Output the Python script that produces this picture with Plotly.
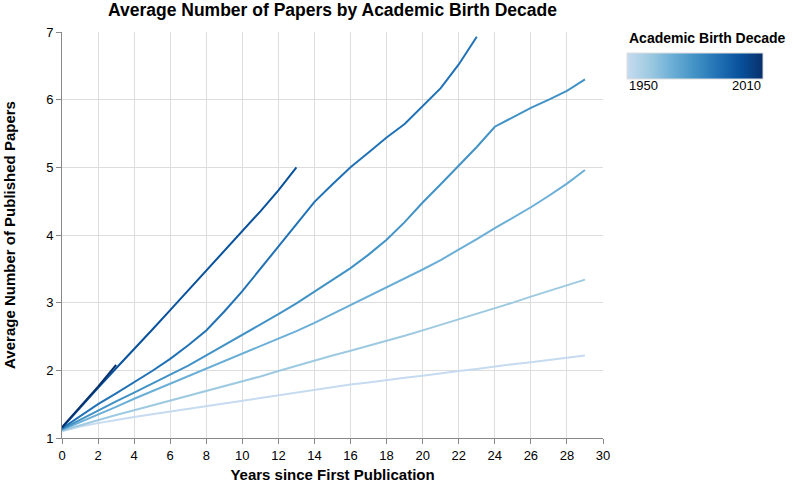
import plotly.graph_objects as go

# ---- data ----
decades = [1950, 1960, 1970, 1980, 1990, 2000, 2010]
papers_1950 = [1.10, 1.17, 1.22, 1.27, 1.31, 1.35, 1.39, 1.43, 1.47, 1.51, 1.56, 1.60, 1.64, 1.68,
               1.71, 1.75, 1.79, 1.82, 1.86, 1.89, 1.92, 1.96, 1.99, 2.02, 2.06, 2.09, 2.12, 2.15, 2.18, 2.22]
papers_1960 = [1.11, 1.19, 1.26, 1.34, 1.41, 1.48, 1.55, 1.62, 1.69, 1.76, 1.83, 1.91, 1.99, 2.07,
               2.15, 2.22, 2.29, 2.36, 2.43, 2.51, 2.59, 2.67, 2.75, 2.83, 2.92, 3.00, 3.09, 3.17, 3.25, 3.34]
papers_1970 = [1.12, 1.23, 1.35, 1.46, 1.58, 1.69, 1.80, 1.91, 2.02, 2.13, 2.24, 2.35, 2.47, 2.58,
               2.70, 2.83, 2.96, 3.09, 3.22, 3.35, 3.49, 3.63, 3.78, 3.94, 4.10, 4.25, 4.41, 4.58, 4.76, 4.96]
papers_1980 = [1.13, 1.27, 1.41, 1.54, 1.67, 1.80, 1.93, 2.07, 2.22, 2.37, 2.52, 2.67, 2.83, 2.99,
               3.16, 3.33, 3.51, 3.71, 3.93, 4.19, 4.48, 4.75, 5.02, 5.30, 5.60, 5.74, 5.88, 6.00, 6.13, 6.30]
papers_1990 = [1.14, 1.32, 1.50, 1.66, 1.82, 1.99, 2.17, 2.37, 2.59, 2.87, 3.17, 3.50, 3.83, 4.17,
               4.49, 4.75, 5.00, 5.22, 5.44, 5.64, 5.90, 6.17, 6.52, 6.93]
papers_2000 = [1.15, 1.45, 1.74, 2.03, 2.31, 2.60, 2.89, 3.18, 3.48, 3.77, 4.06, 4.35, 4.66, 5.00]
papers_2010 = [1.16, 1.46, 1.76, 2.08]
series = [papers_1950, papers_1960, papers_1970, papers_1980, papers_1990, papers_2000, papers_2010]

line_colors = ['#c6dbef', '#9ecae1', '#6baed6', '#4292c6', '#2171b5', '#08519c', '#08306b']

x_ticks = list(range(0, 31, 2))
y_ticks = [1, 2, 3, 4, 5, 6, 7]
legend_labels = ['1950', '2010']

FONT = 'Liberation Sans, Arial, Helvetica, sans-serif'
PLOT_W = 603 - 62
PLOT_H = 438 - 32

fig = go.Figure()
for dec, vals, col in zip(decades, series, line_colors):
    fig.add_trace(go.Scatter(
        x=list(range(len(vals))), y=vals, mode='lines', name=str(dec),
        line=dict(color=col, width=2), showlegend=False,
        hovertemplate='decade %{fullData.name}<br>year %{x}<br>%{y}<extra></extra>'))

# colour legend (gradient)
leg_x = (627 - 62) / PLOT_W
leg_top = (438 - 53) / PLOT_H
scale = [[i / (len(line_colors) - 1), c] for i, c in enumerate(line_colors)]
fig.add_trace(go.Scatter(
    x=[None, None], y=[None, None], mode='markers', showlegend=False, hoverinfo='skip',
    marker=dict(color=[decades[0], decades[-1]], cmin=decades[0], cmax=decades[-1],
                colorscale=scale, showscale=True,
                colorbar=dict(orientation='h', x=leg_x, xanchor='left', y=leg_top, yanchor='top',
                              lenmode='pixels', len=136, thickness=26, xpad=0, ypad=0,
                              outlinewidth=1, outlinecolor='#dddddd',
                              showticklabels=False, ticks=''))))

fig.add_annotation(x=leg_x, y=(438 - 38) / PLOT_H, xref='paper', yref='paper', xanchor='left', yanchor='middle',
                   text='<b>Academic Birth Decade</b>', showarrow=False,
                   font=dict(size=14, color='#000', family=FONT))
fig.add_annotation(x=leg_x, y=(438 - 86) / PLOT_H, xref='paper', yref='paper', xanchor='left', yanchor='middle',
                   text=legend_labels[0], showarrow=False, font=dict(size=13, color='#000', family=FONT))
fig.add_annotation(x=leg_x + 136 / PLOT_W, y=(438 - 86) / PLOT_H, xref='paper', yref='paper',
                   xanchor='right', yanchor='middle',
                   text=legend_labels[1], showarrow=False, font=dict(size=13, color='#000', family=FONT))

fig.update_layout(
    width=794, height=483,
    margin=dict(l=62, r=794 - 603, t=32, b=483 - 438),
    paper_bgcolor='white', plot_bgcolor='white',
    font=dict(family=FONT, color='#000'),
    title=dict(text='<b>Average Number of Papers by Academic Birth Decade</b>',
               x=(62 + 603) / 2 / 794, xanchor='center', y=1 - 10 / 483, yanchor='middle',
               font=dict(size=17.5, color='#000', family=FONT)),
    xaxis=dict(range=[0, 30], tickvals=x_ticks, showgrid=True, gridcolor='#dddddd', gridwidth=1,
               zeroline=False, showline=True, linecolor='#888888', linewidth=1,
               ticks='outside', ticklen=5, tickcolor='#888888', automargin=False,
               tickfont=dict(size=13, color='#000'),
               title=dict(text='<b>Years since First Publication</b>', font=dict(size=15), standoff=8)),
    yaxis=dict(range=[1, 7], tickvals=y_ticks, showgrid=True, gridcolor='#dddddd', gridwidth=1,
               zeroline=False, showline=True, linecolor='#888888', linewidth=1,
               ticks='outside', ticklen=5, tickcolor='#888888', automargin=False,
               tickfont=dict(size=13, color='#000'),
               title=dict(text='<b>Average Number of Published Papers</b>', font=dict(size=15), standoff=26)),
)

fig.write_html('out.html', config={'displayModeBar': False},
               post_script="document.body.style.margin='0';")
